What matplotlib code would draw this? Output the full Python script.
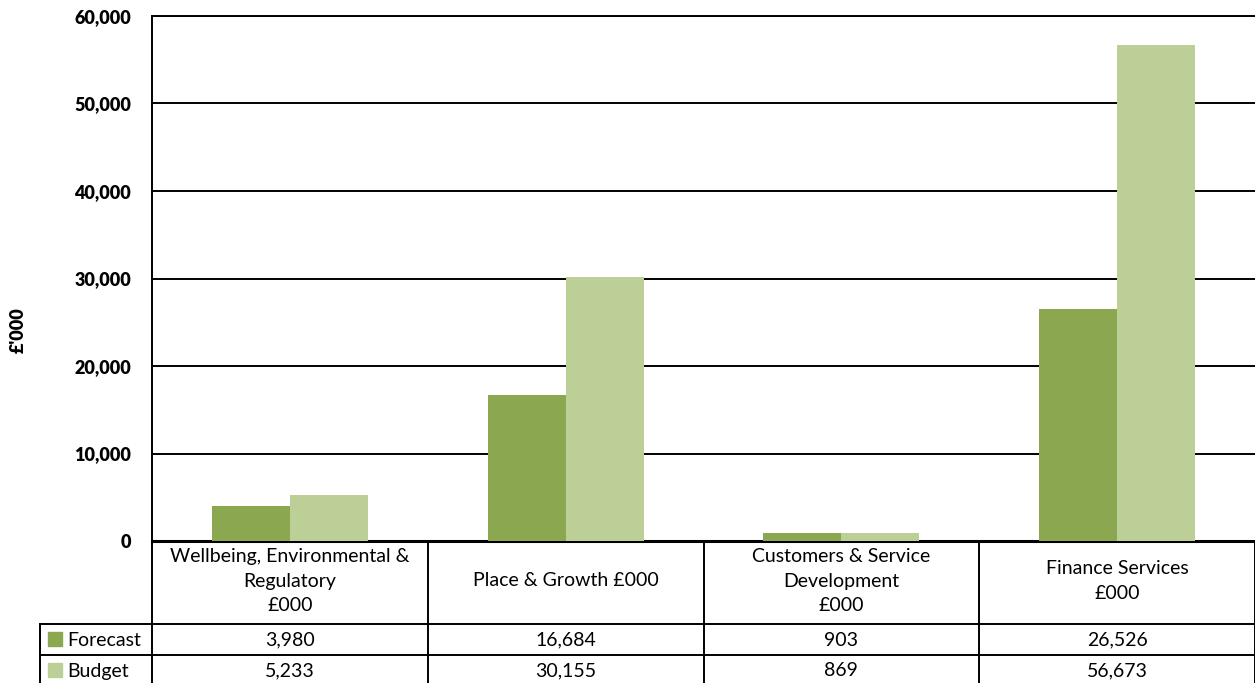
import matplotlib.pyplot as plt
import matplotlib.transforms as mtransforms
import numpy as np

plt.rcParams['font.family'] = ['Lato', 'DejaVu Sans']

categories = ['Wellbeing, Environmental &\nRegulatory\n£000',
              'Place & Growth £000',
              'Customers & Service\nDevelopment\n£000',
              'Finance Services\n£000']
forecast = [3980, 16684, 903, 26526]
budget = [5233, 30155, 869, 56673]
series_names = ['Forecast', 'Budget']
colors = ['#8BA74F', '#BBCF97']
yticks = [0, 10000, 20000, 30000, 40000, 50000, 60000]

W, H = 1255, 683
fig = plt.figure(figsize=(W / 100, H / 100), dpi=100)
left, right, top, bottom = 152, 1255, 16, 541
ax = fig.add_axes([left / W, 1 - bottom / H, (right - left) / W, (bottom - top) / H])

x = np.arange(len(categories))
bw = 0.283
ax.bar(x - bw / 2, forecast, bw, color=colors[0], zorder=3)
ax.bar(x + bw / 2, budget, bw, color=colors[1], zorder=3)

ax.set_xlim(-0.5, len(categories) - 0.5)
ax.set_ylim(0, 60000)
ax.set_yticks(yticks)
ax.set_yticklabels([f'{v:,}' for v in yticks], fontsize=13, fontweight='heavy')
ax.tick_params(axis='y', length=0, pad=15)
ax.set_xticks([])
ax.grid(axis='y', color='black', lw=1.4, zorder=1)
ax.spines['right'].set_visible(False)
ax.spines['left'].set_linewidth(1.4)
ax.spines['top'].set_linewidth(1.4)
ax.spines['bottom'].set_linewidth(2.2)

fig.text(18 / W, 1 - 330 / H, "£'000", rotation=90, fontsize=13, fontweight='heavy',
         ha='center', va='center')

# data table under the axes
ph = bottom - top
def fy(py):
    return (bottom - py) / ph

blend = mtransforms.blended_transform_factory(ax.transData, ax.transAxes)
lx = (40 - left) / (right - left)
for py in [624, 655]:
    ax.plot([lx, 1], [fy(py), fy(py)], transform=ax.transAxes, color='black',
            lw=1.4, clip_on=False)
ax.plot([lx, lx], [fy(624), fy(690)], transform=ax.transAxes, color='black',
        lw=1.4, clip_on=False)
for i in range(len(categories) + 1):
    ax.plot([i - 0.5, i - 0.5], [0, fy(690)], transform=blend, color='black',
            lw=1.4, clip_on=False)

fs = 14
for i, c in enumerate(categories):
    ax.text(i, fy(581), c, transform=blend, ha='center', va='center',
            fontsize=fs, linespacing=1.55)
    ax.text(i, fy(640), f'{forecast[i]:,}', transform=blend, ha='center',
            va='center', fontsize=fs)
    ax.text(i, fy(671), f'{budget[i]:,}', transform=blend, ha='center',
            va='center', fontsize=fs)

for name, col, py in zip(series_names, colors, [639, 670]):
    ax.add_patch(plt.Rectangle(((48 - left) / (right - left), fy(py + 7)),
                               14 / (right - left), 14 / ph, transform=ax.transAxes,
                               color=col, clip_on=False))
    ax.text((67 - left) / (right - left), fy(py + 1), name, transform=ax.transAxes,
            ha='left', va='center', fontsize=fs)

fig.savefig('out.png', dpi=100)
